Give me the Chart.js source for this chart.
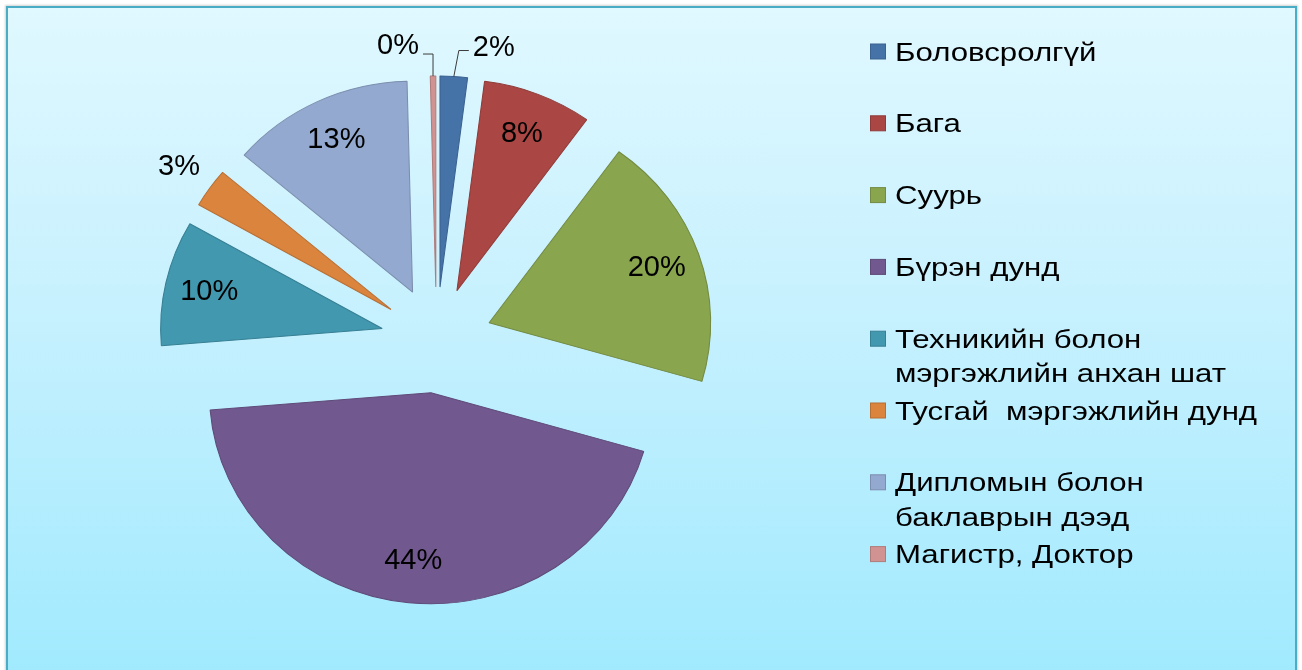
<!DOCTYPE html>
<html>
<head>
<meta charset="utf-8">
<script src="https://cdn.jsdelivr.net/npm/chart.js@4.4.1/dist/chart.umd.min.js"></script>
<style>
html,body{margin:0;padding:0;width:1302px;height:670px;overflow:hidden;background:#ffffff;}
#frame{position:absolute;left:6px;top:6px;width:1291px;height:720px;box-sizing:border-box;
  border:2.5px solid #4BACC6;
  background:linear-gradient(to bottom,#E0F8FF 0px,#C4F0FE 330px,#A1EAFE 664px,#9FE9FE 720px);
  box-shadow:0 0 2px 1px rgba(0,0,0,0.18);}
#c{position:absolute;left:0;top:0;}
</style>
</head>
<body>
<div id="frame"></div>
<canvas id="c" width="1302" height="670"></canvas>
<script>
// ---- data ----
const categories = [
  'Боловсролгүй',
  'Бага',
  'Суурь',
  'Бүрэн дунд',
  'Техникийн болон мэргэжлийн анхан шат',
  'Тусгай  мэргэжлийн дунд',
  'Дипломын болон баклаврын дээд',
  'Магистр, Доктор'
];
const shares = [2, 8, 19.6, 44.4, 9.6, 3, 13.4, 0.4];
const colors = ['#4572A7', '#AA4643', '#89A54E', '#71588F', '#4198AF', '#DB843D', '#93A9CF', '#D19392'];
const borders = ['#3B6290', '#8F3B39', '#738A42', '#5F4A78', '#377F93', '#B86F33', '#7C8EAE', '#B07C7B'];

// ---- layout / style ----
const CX = 436.5, CY = 340, SX = 1.05, R = 211, EXPLODE = 53;
const FONT = "'Liberation Sans', Arial, sans-serif";

const total = shares.reduce((a, b) => a + b, 0);

function toScreen(x, y) { return [CX + SX * (x - CX), y]; }

function wrap(ctx, text, maxW, sx) {
  const words = text.split(' ');
  const lines = [];
  let cur = '';
  for (let i = 0; i < words.length; i++) {
    const w = words[i];
    const test = cur === '' ? w : cur + ' ' + w;
    if (cur !== '' && w !== '' && ctx.measureText(test).width * sx > maxW) {
      lines.push(cur);
      cur = w;
    } else {
      cur = test;
    }
  }
  if (cur !== '') lines.push(cur);
  return lines;
}

const pieDecor = {
  id: 'pieDecor',
  afterDatasetsUpdate(chart) {
    const meta = chart.getDatasetMeta(0);
    const ca = chart.chartArea;
    const cx = (ca.left + ca.right) / 2, cy = (ca.top + ca.bottom) / 2;
    meta.data.forEach(arc => {
      const mid = (arc.startAngle + arc.endAngle) / 2;
      arc.x = cx + Math.cos(mid) * EXPLODE;
      arc.y = cy + Math.sin(mid) * EXPLODE;
    });
  },
  beforeDatasetsDraw(chart) {
    const ctx = chart.ctx;
    ctx.save();
    ctx.translate(CX, CY);
    ctx.scale(SX, 1);
    ctx.translate(-CX, -CY);
  },
  afterDatasetsDraw(chart) {
    const ctx = chart.ctx;
    ctx.restore();
    const meta = chart.getDatasetMeta(0);

    // percentage labels
    ctx.save();
    ctx.font = '29px ' + FONT;
    ctx.fillStyle = '#000000';
    ctx.textBaseline = 'middle';
    meta.data.forEach((arc, i) => {
      const p = shares[i] / total * 100;
      const txt = Math.round(p) + '%';
      const mid = (arc.startAngle + arc.endAngle) / 2;
      const r = arc.outerRadius;
      if (p < 2.5) {
        const side = Math.cos(mid) >= 0 ? 1 : -1;
        const [sx0, sy0] = toScreen(arc.x + Math.cos(mid) * r, arc.y + Math.sin(mid) * r);
        const ex = sx0 + (side > 0 ? 5 : 0), ey = sy0 - (side > 0 ? 26 : 22);
        const fx = ex + side * 10;
        ctx.save();
        ctx.strokeStyle = '#3A3A3A';
        ctx.lineWidth = 1;
        ctx.beginPath();
        ctx.moveTo(sx0, sy0);
        ctx.lineTo(ex, ey);
        ctx.lineTo(fx, ey);
        ctx.stroke();
        ctx.restore();
        ctx.textAlign = side > 0 ? 'left' : 'right';
        ctx.fillText(txt, fx + side * 4, side > 0 ? ey - 3 : ey - 8);
      } else if (p < 5) {
        const [lx, ly] = toScreen(arc.x + Math.cos(mid) * r * 1.17, arc.y + Math.sin(mid) * r * 1.17);
        ctx.textAlign = 'center';
        ctx.fillText(txt, lx, ly);
      } else {
        const [lx, ly] = toScreen(arc.x + Math.cos(mid) * r * 0.8, arc.y + Math.sin(mid) * r * 0.8);
        ctx.textAlign = 'center';
        ctx.fillText(txt, lx, ly);
      }
    });
    ctx.restore();

    // legend
    ctx.save();
    ctx.font = '26px ' + FONT;
    ctx.textBaseline = 'alphabetic';
    ctx.textAlign = 'left';
    const LX = 870.5, TX = 895, TSX = 1.2, BASE0 = 60.5, STEP = 71.8, LINE = 34.7;
    categories.forEach((name, i) => {
      const base = BASE0 + i * STEP;
      ctx.fillStyle = colors[i];
      ctx.fillRect(LX, base - 16.5, 15, 15);
      ctx.strokeStyle = borders[i];
      ctx.lineWidth = 1;
      ctx.strokeRect(LX, base - 16.5, 15, 15);
      const lines = wrap(ctx, name, 400, TSX);
      ctx.fillStyle = '#000000';
      lines.forEach((ln, k) => {
        ctx.save();
        ctx.translate(TX, base + k * LINE);
        ctx.scale(TSX, 1);
        ctx.fillText(ln, 0, 0);
        ctx.restore();
      });
    });
    ctx.restore();
  }
};

new Chart(document.getElementById('c'), {
  type: 'pie',
  data: {
    labels: categories,
    datasets: [{
      data: shares,
      backgroundColor: colors,
      borderColor: borders,
      borderWidth: 1,
      radius: R
    }]
  },
  options: {
    responsive: false,
    animation: false,
    events: [],
    devicePixelRatio: 1,
    layout: {
      padding: {
        left: CX - 221,
        right: 1302 - (CX + 221),
        top: CY - 221,
        bottom: 670 - (CY + 221)
      }
    },
    plugins: {
      legend: { display: false },
      tooltip: { enabled: false }
    }
  },
  plugins: [pieDecor]
});
</script>
</body>
</html>
